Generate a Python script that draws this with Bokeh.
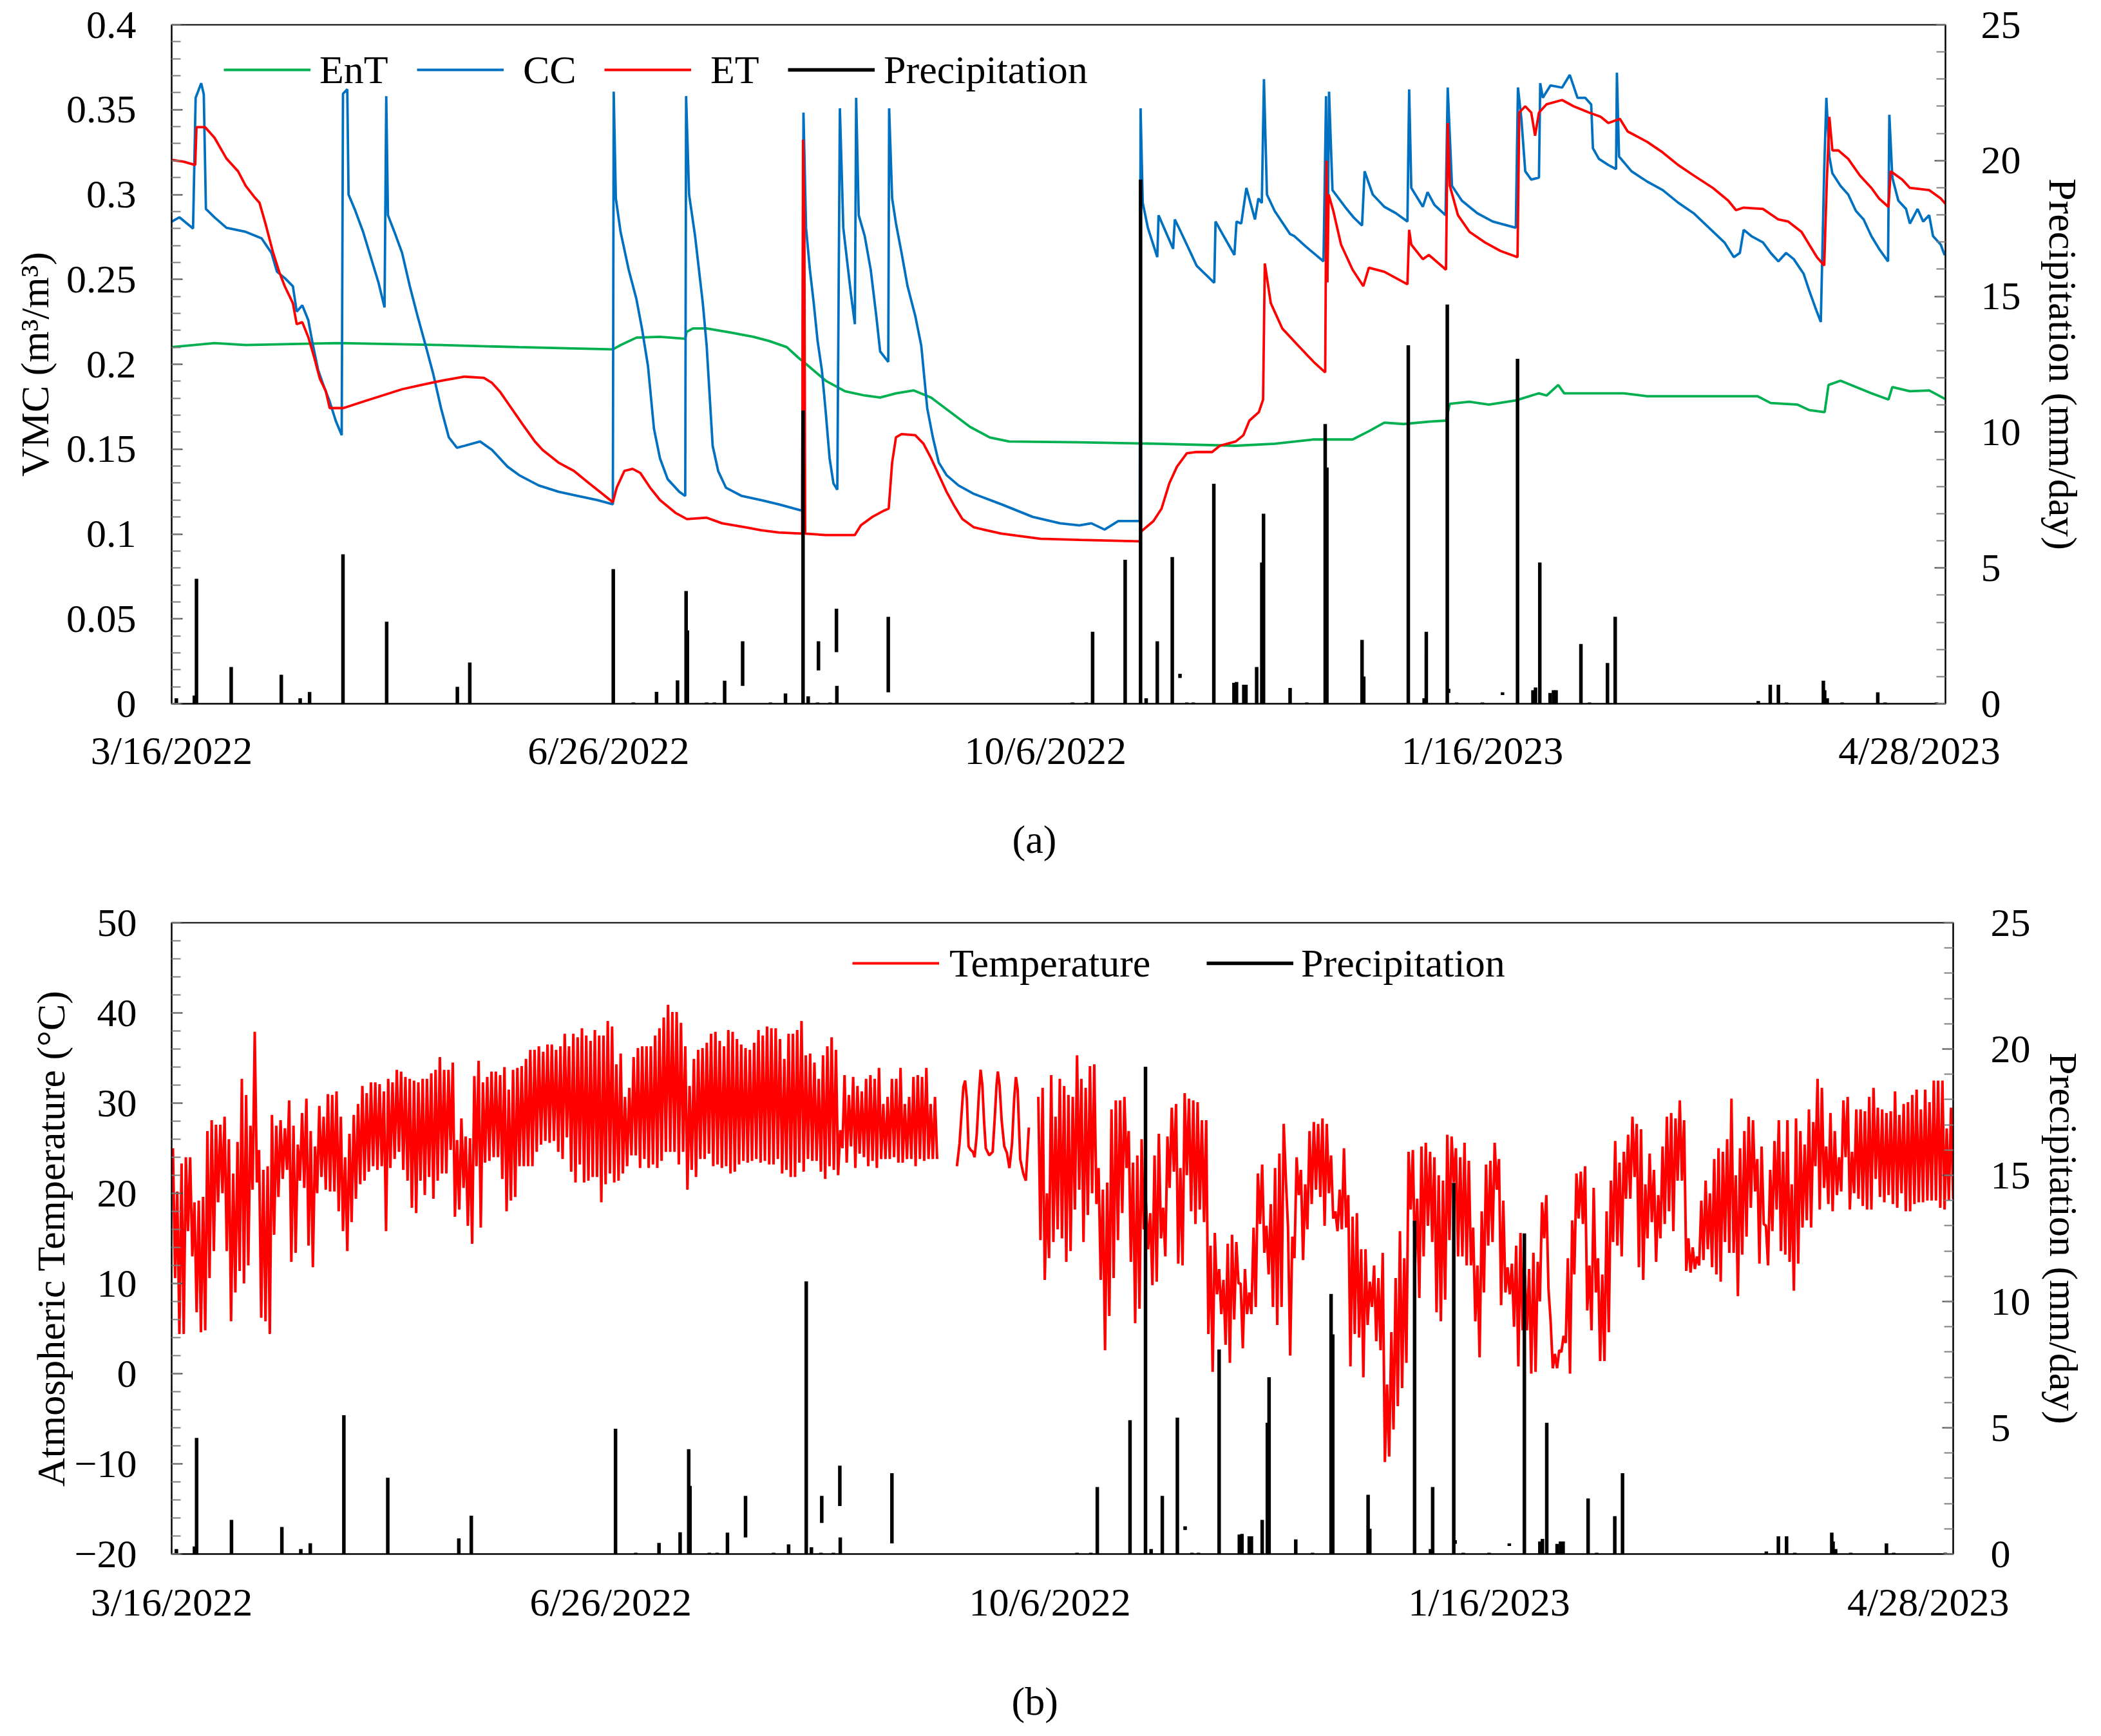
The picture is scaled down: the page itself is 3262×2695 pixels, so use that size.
import math
from bokeh.plotting import figure
from bokeh.models import (Range1d, LinearAxis, FixedTicker, Legend, LegendItem, Title)
from bokeh.layouts import column
from bokeh.embed import file_html
from bokeh.resources import INLINE

# ---------------- data (x = days since 3/16/2022) ----------------
DATE_TICKS = [0, 102, 204, 306, 408]
DATE_LABELS = ["3/16/2022", "6/26/2022", "10/6/2022", "1/16/2023", "4/28/2023"]

VMC_TICKS = [0, 0.05, 0.1, 0.15, 0.2, 0.25, 0.3, 0.35, 0.4]
VMC_LABELS = ["0", "0.05", "0.1", "0.15", "0.2", "0.25", "0.3", "0.35", "0.4"]
PREC_TICKS = [0, 5, 10, 15, 20, 25]
PREC_LABELS = ["0", "5", "10", "15", "20", "25"]
TEMP_TICKS = [-20, -10, 0, 10, 20, 30, 40, 50]
TEMP_LABELS = ["\u221220", "\u221210", "0", "10", "20", "30", "40", "50"]

ENT_DAY = [0, 10.0, 17.3, 39.2, 62.9, 81.1, 103.0, 104.8, 108.5, 114.0, 119.9, 120.2, 121.7, 124.9,
           130.4, 135.8, 139.5, 143.6, 146.3, 148.1, 152.7, 157.2, 161.8, 165.4, 169.1, 173.2, 177.3,
           181.8, 186.4, 191.0, 195.5, 211.9, 230.1, 248.4, 257.5, 266.6, 275.7, 279.5, 283.1, 287.6,
           293.9, 297.5, 298.4, 303.0, 307.5, 313.8, 319.2, 321.0, 323.7, 325.1, 339.0, 344.5, 370.2,
           373.3, 379.6, 382.3, 385.9, 386.8, 389.6, 393.2, 396.8, 400.8, 401.7, 405.8, 410.3, 414.3]
ENT_VMC = [0.2101, 0.2125, 0.2113, 0.2125, 0.2113, 0.2101, 0.2088, 0.2113, 0.2157, 0.2162, 0.215, 0.219,
           0.2211, 0.2211, 0.2187, 0.2162, 0.2137, 0.2101, 0.2039, 0.2002, 0.1903, 0.1841, 0.1816, 0.1804,
           0.1829, 0.1846, 0.1804, 0.1718, 0.1631, 0.1569, 0.1545, 0.154, 0.1532, 0.152, 0.1532, 0.1557,
           0.1557, 0.1606, 0.1656, 0.1648, 0.1663, 0.1668, 0.1767, 0.1779, 0.1762, 0.1787, 0.1829, 0.1816,
           0.1878, 0.1829, 0.1829, 0.1812, 0.1812, 0.1772, 0.1762, 0.173, 0.1718, 0.1878, 0.1903, 0.1866,
           0.1829, 0.1792, 0.1866, 0.1841, 0.1846, 0.1792]

CC_DAY = [0, 1.8, 5.0, 5.6, 6.9, 7.5, 8.0, 10.0, 12.8, 17.3, 21.0, 23.3, 24.6, 26.4, 28.3, 29.2, 30.5,
          31.9, 32.8, 34.2, 35.6, 36.9, 38.3, 39.7, 40.0, 41.0, 41.3, 42.9, 44.7, 46.5, 48.3, 49.7, 50.1,
          50.5, 52.0, 53.8, 55.6, 57.4, 59.3, 61.1, 62.9, 64.7, 66.6, 68.4, 72.0, 74.8, 78.4, 81.1, 85.7,
          90.3, 94.8, 99.4, 103.0, 103.2, 103.7, 104.8, 106.7, 108.5, 109.8, 111.2, 112.6, 114.0, 115.8,
          118.5, 119.9, 120.1, 120.8, 122.2, 123.1, 124.0, 124.9, 126.3, 127.6, 129.4, 133.1, 137.6,
          141.7, 147.2, 147.5, 148.1, 149.0, 149.9, 150.8, 151.8, 152.7, 153.6, 154.5, 155.4, 156.0,
          156.8, 157.7, 158.6, 159.5, 159.8, 160.4, 161.8, 163.2, 164.5, 165.4, 167.3, 167.5, 168.2,
          169.1, 170.4, 171.8, 173.6, 175.0, 176.4, 177.7, 179.1, 180.9, 183.7, 187.3, 193.7, 201.0,
          207.4, 211.9, 214.7, 217.8, 221.0, 226.0, 226.2, 226.7, 227.9, 230.1, 230.4, 233.8, 234.2,
          235.6, 239.3, 243.4, 243.7, 245.6, 248.1, 248.6, 249.7, 250.9, 252.9, 253.7, 254.5, 255.0,
          255.7, 257.5, 261.1, 262.1, 264.8, 268.9, 269.5, 269.8, 270.2, 271.0, 273.9, 275.9, 277.9,
          278.5, 280.4, 283.1, 285.8, 288.5, 288.9, 289.4, 292.1, 293.2, 294.8, 297.4, 297.9, 298.9,
          301.2, 304.8, 308.4, 313.8, 314.3, 315.1, 316.0, 317.4, 319.2, 319.5, 320.1, 321.9, 324.6,
          326.4, 328.2, 330.0, 331.4, 331.8, 333.2, 335.4, 337.2, 337.4, 337.9, 340.8, 344.5, 348.1,
          351.7, 355.3, 358.9, 362.5, 364.7, 366.1, 367.0, 368.8, 371.5, 373.3, 375.1, 376.9, 378.7,
          381.0, 382.3, 383.7, 385.0, 385.8, 386.3, 387.0, 387.7, 389.6, 391.4, 393.2, 395.0, 396.8,
          398.6, 400.7, 401.0, 401.7, 403.1, 404.9, 405.8, 407.6, 408.9, 410.3, 411.2, 413.0, 413.9,
          414.3]
CC_VMC = [0.284, 0.2866, 0.28, 0.357, 0.3656, 0.359, 0.2915, 0.2866, 0.2804, 0.278, 0.2742, 0.2656,
          0.2545, 0.2508, 0.246, 0.231, 0.2347, 0.226, 0.2137, 0.1965, 0.1866, 0.178, 0.1668, 0.1582,
          0.3594, 0.362, 0.3, 0.2903, 0.278, 0.263, 0.248, 0.2335, 0.358, 0.2878, 0.278, 0.2656, 0.246,
          0.2285, 0.211, 0.194, 0.174, 0.157, 0.1508, 0.152, 0.1545, 0.1495, 0.1397, 0.1347, 0.1286,
          0.1249, 0.1224, 0.12, 0.1175, 0.3606, 0.2977, 0.278, 0.2557, 0.2384, 0.221, 0.199, 0.162,
          0.1446, 0.1323, 0.1249, 0.1224, 0.358, 0.3, 0.2755, 0.2557, 0.236, 0.211, 0.152, 0.137, 0.1273,
          0.1224, 0.12, 0.1175, 0.1137, 0.3483, 0.2804, 0.2557, 0.236, 0.2137, 0.1965, 0.1718, 0.1446,
          0.1298, 0.1261, 0.3508, 0.2804, 0.2606, 0.241, 0.2236, 0.357, 0.2878, 0.2755, 0.2557, 0.2285,
          0.2076, 0.2014, 0.3508, 0.2977, 0.2829, 0.2656, 0.246, 0.2285, 0.211, 0.174, 0.157, 0.142,
          0.1347, 0.1286, 0.1236, 0.1175, 0.1101, 0.1063, 0.1051, 0.1063, 0.1026, 0.1076, 0.1076, 0.3508,
          0.2952, 0.2804, 0.2631, 0.2878, 0.268, 0.2853, 0.278, 0.258, 0.248, 0.2841, 0.2755, 0.2644,
          0.2841, 0.2829, 0.3039, 0.2853, 0.2977, 0.295, 0.368, 0.3, 0.2903, 0.2767, 0.2755, 0.2693,
          0.2606, 0.358, 0.2483, 0.3606, 0.3026, 0.2928, 0.2866, 0.2817, 0.3137, 0.3, 0.2928, 0.289,
          0.2841, 0.3619, 0.3039, 0.2928, 0.3014, 0.2939, 0.2878, 0.3631, 0.3051, 0.2964, 0.289, 0.2841,
          0.2804, 0.3631, 0.3446, 0.3137, 0.3088, 0.31, 0.3656, 0.357, 0.3643, 0.363, 0.3705, 0.357,
          0.357, 0.353, 0.3273, 0.321, 0.3174, 0.315, 0.3718, 0.3224, 0.3137, 0.3076, 0.3026, 0.2952,
          0.289, 0.2804, 0.2718, 0.2631, 0.2656, 0.2792, 0.2755, 0.2718, 0.2656, 0.2606, 0.2656, 0.2619,
          0.2533, 0.2434, 0.2335, 0.2249, 0.315, 0.357, 0.3224, 0.3125, 0.3051, 0.3, 0.2903, 0.2853,
          0.2755, 0.268, 0.2606, 0.347, 0.31, 0.2964, 0.2915, 0.2829, 0.2915, 0.2841, 0.2878, 0.2755,
          0.2705, 0.2644, 0.266]

ET_DAY = [0, 2.7, 5.5, 5.8, 7.8, 10.0, 12.8, 15.5, 17.3, 19.2, 20.5, 21.9, 23.7, 25.1, 26.4, 28.3, 29.2,
          30.5, 31.9, 33.3, 34.6, 36.0, 36.9, 40.1, 44.7, 49.2, 53.8, 58.3, 62.9, 68.4, 72.9, 74.8, 76.6,
          79.3, 82.0, 84.8, 86.6, 90.3, 93.9, 97.5, 101.2, 103.0, 103.9, 105.7, 107.6, 109.4, 111.7,
          114.0, 117.6, 120.3, 124.9, 128.5, 134.0, 137.6, 141.7, 147.2, 147.4, 147.7, 147.9, 152.7,
          159.5, 160.9, 163.6, 166.3, 167.4, 168.2, 169.1, 170.4, 173.6, 175.5, 177.3, 179.1, 180.9,
          182.8, 184.6, 187.3, 193.7, 202.8, 211.9, 226.0, 226.3, 229.2, 231.1, 232.9, 234.7, 237.0,
          239.3, 242.9, 244.7, 248.4, 250.2, 251.6, 253.8, 254.8, 255.2, 256.6, 259.3, 263.0, 266.6,
          269.3, 269.6, 269.8, 270.1, 271.2, 273.0, 275.7, 278.2, 279.5, 283.1, 288.5, 288.9, 289.4,
          292.1, 293.5, 297.5, 297.9, 298.4, 300.3, 303.0, 306.6, 310.2, 314.2, 314.6, 316.0, 317.4,
          318.3, 319.2, 321.0, 324.6, 327.3, 330.9, 333.6, 335.4, 338.1, 339.9, 344.5, 348.1, 351.7,
          355.3, 359.8, 363.4, 365.2, 367.0, 371.5, 375.1, 377.4, 380.5, 382.3, 384.1, 385.8, 386.4,
          387.0, 387.7, 389.1, 391.4, 394.1, 396.8, 398.6, 400.8, 401.3, 404.0, 405.8, 410.3, 413.0,
          414.3]
ET_VMC = [0.3204, 0.3194, 0.3174, 0.3397, 0.3397, 0.3335, 0.3212, 0.3137, 0.3051, 0.2989, 0.2952,
          0.2829, 0.2656, 0.2545, 0.246, 0.236, 0.2236, 0.2248, 0.216, 0.2039, 0.1915, 0.1841, 0.1742,
          0.1742, 0.178, 0.1816, 0.1853, 0.1878, 0.1903, 0.1927, 0.192, 0.189, 0.184, 0.1742, 0.1644,
          0.1545, 0.1495, 0.1421, 0.1372, 0.1298, 0.1224, 0.1187, 0.1273, 0.1372, 0.1384, 0.136, 0.1273,
          0.12, 0.1125, 0.1088, 0.1096, 0.1063, 0.1039, 0.1022, 0.1009, 0.1002, 0.3323, 0.2853, 0.1002,
          0.0994, 0.0994, 0.1051, 0.1101, 0.1138, 0.115, 0.1421, 0.157, 0.1589, 0.1582, 0.1533, 0.1446,
          0.1347, 0.1249, 0.1162, 0.1088, 0.1039, 0.1002, 0.0972, 0.0965, 0.0957, 0.1014, 0.1076, 0.115,
          0.1298, 0.1397, 0.1476, 0.1483, 0.1483, 0.152, 0.1545, 0.1582, 0.1668, 0.1718, 0.1792, 0.2594,
          0.236, 0.221, 0.211, 0.2014, 0.1952, 0.3199, 0.2483, 0.3, 0.2903, 0.2705, 0.2557, 0.246, 0.2569,
          0.2545, 0.2471, 0.2792, 0.2705, 0.2619, 0.2644, 0.2557, 0.3421, 0.3051, 0.2878, 0.278, 0.2718,
          0.2668, 0.2631, 0.3483, 0.352, 0.3483, 0.3347, 0.3483, 0.3532, 0.3557, 0.352, 0.3483, 0.3458,
          0.3421, 0.3446, 0.3372, 0.331, 0.3248, 0.3174, 0.3113, 0.3039, 0.2964, 0.2908, 0.2923, 0.2915,
          0.2853, 0.2841, 0.278, 0.2705, 0.2631, 0.2582, 0.3076, 0.3458, 0.326, 0.326, 0.321, 0.3113,
          0.3039, 0.2977, 0.2927, 0.3137, 0.3088, 0.3039, 0.3026, 0.2977, 0.2939]

# daily precipitation (mm/day): day, top value, base value of each stroke
PRECIP_DAY = [1.1, 5.3, 5.8, 13.9, 25.6, 30.0, 32.2, 40.0, 50.2, 66.7, 69.6, 103.1, 107.8, 113.2, 118.1,
              120.1, 120.4, 124.9, 126.7, 129.1, 133.3, 139.8, 143.3, 147.4, 148.6, 150.8, 151.0, 153.7,
              155.2, 155.3, 167.3, 210.3, 213.5, 215.0, 222.6, 226.2, 227.5, 230.1, 233.6, 235.4, 237.0,
              238.5, 243.3, 248.0, 248.6, 250.3, 250.8, 253.3, 254.5, 254.9, 261.1, 265.0, 269.3, 269.7,
              277.9, 278.3, 288.7, 292.4, 292.9, 297.8, 298.1, 300.0, 306.0, 310.7, 314.2, 317.8, 318.4,
              319.4, 321.8, 322.6, 323.2, 329.0, 331.0, 335.2, 337.0, 370.4, 373.2, 375.1, 377.0, 385.6,
              385.9, 386.5, 390.0, 398.3, 400.0, 412.0]
PRECIP_MM = [0.2, 0.3, 4.6, 1.35, 1.07, 0.2, 0.43, 5.5, 3.02, 0.62, 1.52, 4.96, 0.05, 0.44, 0.86, 4.15,
             2.7, 0.05, 0.05, 0.85, 2.3, 0.05, 0.38, 10.8, 0.27, 0.05, 2.3, 0.05, 3.5, 0.66, 3.2, 0.05,
             0.05, 2.65, 5.3, 19.3, 0.2, 2.3, 5.4, 1.1, 0.05, 0.05, 8.1, 0.77, 0.8, 0.7, 0.7, 1.35, 5.2,
             7.0, 0.58, 0.05, 10.3, 8.7, 2.35, 1.0, 13.2, 0.2, 2.65, 14.7, 0.55, 0.05, 0.05, 0.42, 12.7,
             0.5, 0.6, 5.2, 0.4, 0.5, 0.5, 2.2, 0.05, 1.5, 3.2, 0.1, 0.7, 0.7, 0.05, 0.85, 0.5, 0.2, 0.05,
             0.42, 0.05, 0.05]
PRECIP_BASE = [0, 0, 0, 0, 0, 0, 0, 0, 0, 0, 0, 0, 0, 0, 0, 0, 0, 0, 0, 0, 0.66, 0, 0, 0, 0, 0, 1.23, 0,
               1.9, 0, 0.42, 0, 0, 0, 0, 0, 0, 0, 0, 0.95, 0, 0, 0, 0, 0, 0, 0, 0, 0, 0, 0, 0, 0, 0, 0, 0,
               0, 0, 0, 0, 0.4, 0, 0, 0.32, 0, 0, 0, 0, 0, 0, 0, 0, 0, 0, 0, 0, 0, 0, 0, 0, 0, 0, 0, 0, 0,
               0]

# atmospheric temperature: daily highs / lows, days 0-177
TEMP1_MAX = [25, 20.2, 23.3, 24, 24, 19, 19.2, 19.6, 26.9, 28.1,
             27.6, 27.6, 28.5, 26, 22.2, 25.7, 32.7, 30.9, 27.5, 37.9,
             24.8, 22.6, 23, 28.7, 27.5, 28.1, 27.2, 30.3, 27.5, 25.4,
             28.9, 30.5, 26.9, 25.2, 29.7, 28.5, 31, 30.9, 31.3, 28.5,
             24, 26.6, 28.7, 29.9, 31.9, 31.1, 32.3, 32.3, 32.1, 31.3,
             32.7, 32.3, 33.7, 33.5, 32.9, 32.7, 32.5, 32.3, 32.7, 32.7,
             33.3, 33.7, 35.1, 33.7, 33.7, 34.5, 25.9, 28.3, 26.3, 26.1,
             33, 34.7, 32.3, 32.9, 33.5, 33.5, 33.1, 34, 31.5, 33.7,
             33.9, 34.1, 34.9, 35.9, 35.9, 36.3, 35.7, 36.5, 36.5, 35.9,
             36.3, 37.7, 36.3, 37.7, 37.3, 38.3, 37.5, 36.9, 38.1, 37.5,
             37.5, 39.1, 38.5,
             34.3, 35.5, 30.7, 31.7, 35.1, 36.1, 36.3, 36.3, 36.3, 37.5,
             38.3, 39.5, 40.9, 40.1, 40.1, 38.9, 36.3, 31.9, 34.9, 35.9,
             36.1, 36.7, 37.7, 37.9, 36.9, 36.3, 38.1, 37.9, 37.1, 36.5,
             36.1, 35.9, 36.7, 38.1, 37.5, 38.5, 38.3, 38.3, 37.1, 34.9,
             37.7, 37.7, 38.1, 39.1, 35.3, 35.5, 34.5, 32.7, 35.3, 36.3,
             37.3, 35.9, 27, 33.1, 30.9, 32.9, 31.9, 31.3, 32.7, 33.1,
             32.7, 33.9, 29.9, 30.7, 32.7, 32.7, 33.9, 29.9, 30.7, 32.9,
             33.1, 32.9, 33.9, 29.9, 30.7]
TEMP1_MIN = [10.6, 4.4, 4.4, 15.8, 13, 6.8, 4.6, 4.8, 10.6, 13.6,
             19, 20, 13.6, 5.8, 9, 11.4, 10, 12, 20.4, 21.2,
             6.2, 5.8, 4.4, 15.4, 19.6, 21.6, 22.6, 12.4, 13.4, 21.4,
             20.6, 14.2, 11.8, 20, 21.8, 20.4, 20.2, 20.2, 18, 15.8,
             13.6, 16.8, 19.4, 21, 21.4, 22.4, 23, 22.6, 23, 15.8,
             22.8, 23.8, 24.6, 22.6, 21.4, 18.4, 17.8, 21.4, 19.8, 21.8,
             19.4, 21.4, 22.2, 22.2, 24.8, 17.4, 18.2, 20.6, 16.4, 14.4,
             23, 16.2, 23.4, 23.6, 24, 24, 21.6, 18, 19.2, 19.6,
             23, 23, 23, 23, 24.6, 25.4, 25.8, 25.6, 25.8, 24.6,
             23.8, 26.2, 22.4, 21.2, 23.2, 21.2, 21.4, 21.8, 21.8, 19,
             21, 22.2, 21.2,
             21.4, 22.2, 23.0, 24.2, 24.2, 22.8, 23.8, 22.8, 23.2, 22.8,
             23.6, 24.6, 24.6, 24.6, 23.2, 24.6, 20.4, 22.6, 21.8, 23.8,
             23.8, 24.4, 23.0, 23.2, 22.8, 23.0, 22.2, 22.4, 23.2, 23.6,
             23.4, 23.6, 23.8, 23.4, 23.6, 23.2, 23.2, 23.8, 22.2, 22.6,
             21.8, 21.8, 23.4, 22.4, 23.8, 23.6, 23.6, 22.4, 21.6, 23.0,
             22.6, 22.0, 25.0, 23.4, 25.2, 22.8, 24.4, 24.0, 23.0, 23.6,
             22.8, 23.8, 23.8, 23.8, 24.0, 23.4, 23.4, 23.8, 23.8, 23.0,
             23.8, 23.6, 23.8, 23.8, 23.8]

# smoothed stretch, days 182-199
TEMP2_DAY = [182.4, 183.0, 183.5, 183.9, 184.3, 184.7, 185.1, 185.6, 186.1, 186.5,
             187.0, 187.5, 187.9, 188.3, 188.7, 189.1, 189.9, 190.7, 191.2, 191.6,
             191.9, 192.3, 192.8, 193.4, 194.0, 194.6, 195.2, 195.7, 196.1, 196.5,
             197.1, 197.8, 198.4, 199.1]
TEMP2_C = [23.0, 25.5, 29.0, 31.8, 32.5, 30.5, 25.2, 24.8, 24.6, 24.0,
           26.5, 31.0, 33.7, 32.0, 28.0, 25.0, 24.2, 24.6, 28.5, 32.0,
           33.5, 32.0, 28.0, 25.2, 24.5, 22.8, 25.5, 30.5, 32.9, 31.5,
           23.8, 22.2, 21.4, 27.3]

# daily highs / lows, days 201-413
TEMP3_MAX = [30.7, 31.7, 20, 33.1, 28.5, 32.7, 31.9, 30.9, 30.7, 35.3,
             32.7, 31.7, 34.1, 34.3, 22.8, 20.4, 21.2, 29.3, 30.3, 30.3,
             30.7, 26.9, 23.4, 24.2, 26.0, 19, 17.8, 24.2, 26.6, 18.4,
             26.3, 29.5, 29.9, 22.8, 31.1, 30.5, 30.3, 30.1, 28.1, 28.1,
             14.2, 15.6, 11.6, 10.4, 14.4, 15.4, 14.6, 10, 11.6, 9,
             16.2, 22.2, 23.2, 16.4, 18.8, 22.8, 24.4, 27.7, 16.2, 15.2,
             24.0, 22.6, 21, 26.9, 27.9, 27.7, 28.3, 27.7, 24.2, 18,
             20.4, 25.0, 19.8, 17.4, 17.8, 13.8, 13.8, 10.2, 12, 10.6,
             13.4, -1.2, 4.6, 10.6, 15.8, 12.8, 24.6, 24.8, 19.4, 25.2,
             25.6, 24.6, 24.0, 22.0, 21.4, 26.5, 26.3, 25, 24, 25.6,
             23.6, 16.2, 12, 18, 23.2, 23.6, 25.6, 23.8, 19.2, 11.8,
             12.2, 14.2, 15.6, 11, 11.6, 13.4, 12.4, 19, 19.8, 5.8,
             2.2, 2.6, 4.2, 12.8, 17, 22.2, 22.4, 23.0, 12, 20.6,
             12.8, 11, 18, 21.4, 25.8, 23.4, 24.6, 26.5, 28.5, 27.7,
             27.1, 21.0, 24.4, 22.6, 19.8, 25.2, 28.5, 28.9, 28.3, 30.3,
             28.1, 15, 14, 13, 19.2, 21.4, 20, 23.8, 25.0, 24.6,
             26, 30.5, 22, 25.0, 26.9, 28.5, 28.1, 23.8, 25.2, 16.4,
             22.6, 25.8, 28.1, 24.6, 28.1, 21, 28.3, 26.9, 25.4, 29.3,
             27.9, 32.7, 31.7, 25.2, 28.9, 26.9, 24.0, 30.3, 30.7, 24.6,
             29.3, 29.3, 29.1, 30.7, 31.7, 29.5, 29.3, 28.9, 29.1, 31.3,
             28.7, 29.9, 30.1, 30.9, 31.5, 29.3, 31.5, 30.1, 32.5, 32.5,
             32.5, 27.2, 29.5]
TEMP3_MIN = [14.8, 10.4, 12.8, 14.6, 16, 15, 12.4, 13.6, 18.2, 20.4,
             14.6, 17.6, 20.0, 18.8, 10.4, 2.6, 6.4, 10.6, 14.8, 17.8,
             22.8, 12.4, 5.6, 7.2, 16, 13.8, 9.8, 10.2, 15, 13,
             20.6, 22.4, 12.2, 12, 22.0, 18, 16.6, 18.2, 16.8, 4.4,
             0.2, 8.8, 6.6, 3.2, 1.2, 6, 10, 2.8, 6.6, 6.6,
             7.4, 16.6, 13.4, 11, 7.4, 5.4, 7.4, 21.6, 2.0, 12.8,
             19.8, 12.6, 16, 18.8, 20.4, 19.6, 16.4, 20, 17.2, 15.8,
             16, 16.2, 0.8, 4.4, 4.0, -0.4, 5.4, 7.4, 3.6, 2.6,
             -9.8, -9.2, -6.2, -3.6, -1.6, 1.2, 18.2, 11.8, 8.4, 13,
             16.4, 14.6, 6.8, 5.8, 8.2, 14.8, 21.2, 13, 13, 12,
             12, 5.8, 1.8, 9, 14.2, 14.6, 20.4, 7.6, 9, 8.8,
             5.2, 0.8, 4.8, 4.8, 0, 0.2, 8, 15, 9.4, 0.6,
             0.6, 2.4, 3.4, 0, 11, 17.2, 16.6, 7, 4.8, 9,
             1.4, 1.4, 4.6, 14.6, 14.2, 13, 19.4, 19.4, 21.8, 11.8,
             10.4, 15, 16.8, 12.4, 15, 16.6, 18, 15.8, 21.4, 21.4,
             11.4, 11.2, 11.6, 12, 12.6, 13.8, 11.8, 11, 10.2, 14.6,
             13.4, 13.4, 8.6, 13.2, 15.2, 18.4, 20.2, 12.2, 16.6, 12,
             15.8, 18.2, 13.6, 13.2, 12.4, 9.2, 12.2, 16.2, 17, 16.2,
             23, 18.2, 20.6, 18.8, 18, 19.8, 20.2, 24.0, 18.2, 20.0,
             19.4, 18.6, 18.2, 18.2, 21.6, 19.6, 19, 19.8, 18.8, 18.4,
             20.0, 18, 18, 18.8, 19, 19, 19.2, 19.2, 19.2, 18.4,
             18.2, 19.2, 19.4]
TEMP1_FIRST_DAY = 0
TEMP3_FIRST_DAY = 201


def daily_path(first_day, highs, lows):
    xs, ys = [], []
    for i, (hi, lo) in enumerate(zip(highs, lows)):
        d = first_day + i
        xs.extend([d + 0.3, d + 0.8])
        ys.extend([hi, lo])
    return xs, ys


t1x, t1y = daily_path(TEMP1_FIRST_DAY, TEMP1_MAX, TEMP1_MIN)
t3x, t3y = daily_path(TEMP3_FIRST_DAY, TEMP3_MAX, TEMP3_MIN)
temp_x = t1x + [math.nan] + TEMP2_DAY + [math.nan] + t3x
temp_y = t1y + [math.nan] + TEMP2_C + [math.nan] + t3y

# ---------------- styling / layout ----------------
FONT = "Liberation Serif"
FS = "62px"
GREEN = "#00B050"
BLUE = "#0070C0"
RED = "#FF0000"
TICKC = "#404040"
W = 3260
HA = 1392
HB = 1298


def style_axis(ax, standoff, label_standoff=None):
    ax.major_label_text_font = FONT
    ax.major_label_text_font_size = FS
    ax.major_label_text_color = "black"
    ax.axis_label_text_font = FONT
    ax.axis_label_text_font_size = FS
    ax.axis_label_text_font_style = "normal"
    ax.axis_label_text_color = "black"
    ax.axis_line_color = "black"
    ax.axis_line_width = 2
    ax.major_tick_line_color = TICKC
    ax.minor_tick_line_color = "#7f7f7f"
    ax.major_tick_line_width = 2
    ax.minor_tick_line_width = 2
    ax.major_tick_in = 17
    ax.major_tick_out = 0
    ax.minor_tick_in = 14
    ax.minor_tick_out = 0
    ax.major_label_standoff = standoff
    if label_standoff is not None:
        ax.axis_label_standoff = label_standoff


def style_xaxis(p, standoff):
    ax = p.xaxis[0]
    style_axis(ax, standoff)
    ax.ticker = FixedTicker(ticks=DATE_TICKS)
    ax.major_label_overrides = dict(zip(DATE_TICKS, DATE_LABELS))
    ax.major_tick_in = 0
    ax.minor_tick_in = 0


def base_fig(width, height, x_end, y0, y1, top, bottom, left, right):
    p = figure(width=width, height=height, x_range=Range1d(0, x_end), y_range=Range1d(y0, y1),
               output_backend="svg", toolbar_location=None, title=None,
               min_border_top=top, min_border_bottom=bottom,
               min_border_left=left, min_border_right=right)
    try:
        p.frame_align = False
    except AttributeError:
        pass
    p.xgrid.visible = False
    p.ygrid.visible = False
    p.outline_line_color = "black"
    p.outline_line_width = 2
    p.background_fill_color = "white"
    p.border_fill_color = "white"
    return p


def one_legend(p, label, renderer, loc, standoff):
    lg = Legend(items=[LegendItem(label=label, renderers=[renderer])], location=loc,
                glyph_width=135, glyph_height=72, label_height=72, label_standoff=standoff,
                padding=0, margin=0, border_line_alpha=0, background_fill_alpha=0,
                label_text_font=FONT, label_text_font_size=FS, label_text_color="black")
    p.add_layout(lg)


def caption(p, text, gap, left_offset):
    # an empty spacer title pushes the caption down below the date labels
    p.add_layout(Title(text=" ", text_font_size="2px", standoff=gap), "below")
    p.add_layout(Title(text=text, align="left", offset=left_offset, standoff=0,
                       text_font=FONT, text_font_size=FS, text_font_style="normal",
                       text_color="black"), "below")


# ---------------- panel (a) ----------------
pa = base_fig(W, HA, 414.1, 0, 0.4, 38, HA - 38 - 1054, 266, W - 3020)
pa.extra_y_ranges = {"precip": Range1d(0, 25)}
style_xaxis(pa, 38)
ya = pa.yaxis[0]
style_axis(ya, 55, 12)
ya.axis_label = "VMC (m\u00b3/m\u00b3)"
ya.ticker = FixedTicker(ticks=VMC_TICKS, minor_ticks=[i / 100 for i in range(41)])
ya.major_label_overrides = dict(zip(VMC_TICKS, VMC_LABELS))
ra = LinearAxis(y_range_name="precip", axis_label="Precipitation (mm/day)")
style_axis(ra, 55, 28)
ra.ticker = FixedTicker(ticks=PREC_TICKS, minor_ticks=list(range(26)))
ra.major_label_overrides = dict(zip(PREC_TICKS, PREC_LABELS))
pa.add_layout(ra, "right")

r_ent = pa.line(ENT_DAY, ENT_VMC, line_color=GREEN, line_width=3.8)
r_cc = pa.line(CC_DAY, CC_VMC, line_color=BLUE, line_width=3.8)
r_et = pa.line(ET_DAY, ET_VMC, line_color=RED, line_width=3.8)
r_pa = pa.segment(x0=PRECIP_DAY, y0=PRECIP_BASE, x1=PRECIP_DAY, y1=PRECIP_MM,
                  y_range_name="precip", line_color="black", line_width=5.5)

one_legend(pa, "EnT", r_ent, (81, 948), 14)
one_legend(pa, "CC", r_cc, (381, 948), 30)
one_legend(pa, "ET", r_et, (672, 948), 30)
one_legend(pa, "Precipitation", r_pa, (957, 948), 14)
caption(pa, "(a)", 61, 1305)

# ---------------- panel (b) ----------------
top_b = 1432 - HA
pb = base_fig(W, HB, 413.8, -20, 50, top_b, HB - top_b - 980, 266, W - 3032)
pb.extra_y_ranges = {"precip": Range1d(0, 25)}
style_xaxis(pb, 40)
yb = pb.yaxis[0]
style_axis(yb, 54, 0)
yb.axis_label = "Atmospheric Temperature (\u00b0C)"
yb.ticker = FixedTicker(ticks=TEMP_TICKS, minor_ticks=list(range(-20, 51, 2)))
yb.major_label_overrides = dict(zip(TEMP_TICKS, TEMP_LABELS))
rb = LinearAxis(y_range_name="precip", axis_label="Precipitation (mm/day)")
style_axis(rb, 58, 14)
rb.ticker = FixedTicker(ticks=PREC_TICKS, minor_ticks=list(range(26)))
rb.major_label_overrides = dict(zip(PREC_TICKS, PREC_LABELS))
pb.add_layout(rb, "right")

r_t = pb.line(temp_x, temp_y, line_color=RED, line_width=4)
r_pb = pb.segment(x0=PRECIP_DAY, y0=PRECIP_BASE, x1=PRECIP_DAY, y1=PRECIP_MM,
                  y_range_name="precip", line_color="black", line_width=5.5)

one_legend(pb, "Temperature", r_t, (1057, 881), 16)
one_legend(pb, "Precipitation", r_pb, (1607, 881), 12)
caption(pb, "(b)", 77, 1304)

layout = column(pa, pb)
open("out.html", "w").write(file_html(layout, INLINE))
